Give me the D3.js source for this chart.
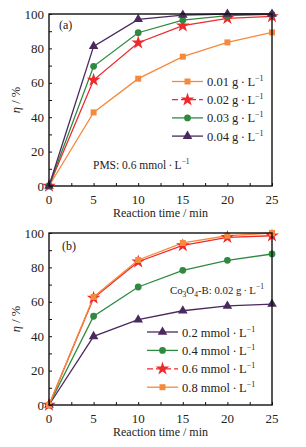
<!DOCTYPE html>
<html lang="en">
<head>
<meta charset="UTF-8">
<title>Removal efficiency vs reaction time</title>
<style>
  body { margin: 0; background: #fff; }
  svg text { font-family: "Liberation Serif", "DejaVu Serif", serif; fill: #222; }
</style>
</head>
<body>
<div id="chart"></div>
<script src="https://d3js.org/d3.v7.min.js"></script>
<script>
  const times = [0, 5, 10, 15, 20, 25];
  const xTicks = [0, 5, 10, 15, 20, 25];
  const yTicks = [0, 20, 40, 60, 80, 100];

  // panel (a): catalyst dosage
  const dosageLabels = ['0.01 g\u2009\u00b7\u2009L', '0.02 g\u2009\u00b7\u2009L', '0.03 g\u2009\u00b7\u2009L', '0.04 g\u2009\u00b7\u2009L'];
  const dose001 = [0, 42.8, 62.4, 75.2, 83.5, 89.3];
  const dose002 = [0, 61.6, 83.3, 93.2, 97.5, 98.6];
  const dose003 = [0, 69.6, 89.1, 96.5, 99.0, 99.8];
  const dose004 = [0, 81.2, 96.9, 99.4, 100, 100];

  // panel (b): PMS concentration
  const pmsLabels = ['0.2 mmol\u2009\u00b7\u2009L', '0.4 mmol\u2009\u00b7\u2009L', '0.6 mmol\u2009\u00b7\u2009L', '0.8 mmol\u2009\u00b7\u2009L'];
  const pms02 = [0, 39.9, 49.6, 54.8, 57.6, 58.7];
  const pms04 = [0, 51.6, 68.6, 78.3, 84.1, 87.8];
  const pms06 = [0, 62.2, 83.3, 92.8, 97.5, 98.4];
  const pms08 = [0, 62.8, 84.3, 94.2, 98.4, 100];

  const orange = '#f58a3c', red = '#ee2a2c', green = '#2f8a40', purple = '#4a2a5e';

  const W = 306, H = 447;
  const svg = d3.select('#chart').append('svg').attr('width', W).attr('height', H)
    .attr('font-family', '"Liberation Serif", "DejaVu Serif", serif');

  const symbols = {
    square: d3.symbolSquare,
    star: d3.symbolStar,
    diamond: d3.symbolCircle,
    triangle: d3.symbolTriangle
  };
  const symSize = { square: 36, star: 58, diamond: 36, triangle: 40 };

  function panel(opts) {
    const g = svg.append('g');
    const x = d3.scaleLinear().domain([0, 25]).range([49, 272]);
    const y = d3.scaleLinear().domain([0, 100]).range([opts.bottom, opts.bottom - 172]);

    // series
    opts.series.forEach(s => {
      const pts = times.map((t, i) => [t, s.values[i]]);
      g.append('path')
        .datum(pts)
        .attr('fill', 'none')
        .attr('stroke', s.color)
        .attr('stroke-width', 1.3)
        .attr('d', d3.line().x(d => x(d[0])).y(d => y(d[1])));
    });
    opts.series.forEach(s => {
      g.selectAll(null)
        .data(times.map((t, i) => [t, s.values[i]]))
        .enter()
        .append('path')
        .attr('transform', d => `translate(${x(d[0])},${y(d[1])})`)
        .attr('d', d3.symbol().type(symbols[s.shape]).size(symSize[s.shape]))
        .attr('fill', s.color);
    });

    // frame
    const x0 = x(0), x1 = x(25), y0 = y(0), y1 = y(100);
    g.append('rect')
      .attr('x', x0).attr('y', y1).attr('width', x1 - x0).attr('height', y0 - y1)
      .attr('fill', 'none').attr('stroke', '#111').attr('stroke-width', 1.4);

    // inner ticks
    const xAxis = d3.axisBottom(x).tickValues(d3.range(0, 25.1, 2.5)).tickSize(-3).tickFormat('');
    g.append('g').attr('transform', `translate(0,${y0})`).call(xAxis)
      .call(a => a.select('.domain').remove())
      .call(a => a.selectAll('line').attr('stroke', '#111').attr('stroke-width', 1));
    const yAxis = d3.axisLeft(y).tickValues(d3.range(0, 100.1, 10)).tickSize(-3).tickFormat('');
    g.append('g').attr('transform', `translate(${x0},0)`).call(yAxis)
      .call(a => a.select('.domain').remove())
      .call(a => a.selectAll('line').attr('stroke', '#111').attr('stroke-width', 1));

    // tick labels
    g.selectAll(null).data(xTicks).enter().append('text')
      .attr('x', d => x(d)).attr('y', y0 + 18)
      .attr('text-anchor', 'middle').attr('font-size', 13).text(d => d);
    g.selectAll(null).data(yTicks).enter().append('text')
      .attr('x', x0 - 5).attr('y', d => y(d) + 4.5)
      .attr('text-anchor', 'end').attr('font-size', 13).text(d => d);

    // axis titles
    g.append('text').attr('x', (x0 + x1) / 2).attr('y', y0 + 31)
      .attr('text-anchor', 'middle').attr('font-size', 12).text('Reaction time / min');
    const yt = g.append('text')
      .attr('transform', `translate(20,${(y0 + y1) / 2}) rotate(-90)`)
      .attr('text-anchor', 'middle').attr('font-size', 12.5);
    yt.append('tspan').attr('font-style', 'italic').text('\u03b7');
    yt.append('tspan').text(' / %');

    // panel tag
    g.append('text').attr('x', opts.tag[1]).attr('y', opts.tag[2])
      .attr('font-size', 12).text(opts.tag[0]);

    // legend
    opts.series.forEach((s, i) => {
      const ly = opts.legend.y + i * opts.legend.dy;
      const lx = opts.legend.x;
      g.append('line').attr('x1', lx).attr('x2', lx + 31).attr('y1', ly).attr('y2', ly)
        .attr('stroke', s.color).attr('stroke-width', 1.3)
        .attr('stroke-dasharray', s.shape === 'star' ? '6,3' : null);
      g.append('path').attr('transform', `translate(${lx + 15.5},${ly})`)
        .attr('d', d3.symbol().type(symbols[s.shape]).size(symSize[s.shape]))
        .attr('fill', s.color);
      const t = g.append('text').attr('x', lx + 35).attr('y', ly + 4.5).attr('font-size', 12.5);
      t.append('tspan').text(s.label);
      t.append('tspan').attr('dy', -5).attr('font-size', 8).text('\u22121');
    });

    // note
    const n = g.append('text').attr('x', opts.note.x).attr('y', opts.note.y).attr('font-size', opts.note.size);
    opts.note.parts.forEach(p => {
      const ts = n.append('tspan').text(p.t);
      if (p.sub) ts.attr('dy', 3).attr('font-size', 7.5);
      if (p.back) ts.attr('dy', -3);
      if (p.sup) ts.attr('dy', -5).attr('font-size', 7.5);
    });
  }

  panel({
    bottom: 186,
    tag: ['(a)', 59, 29],
    series: [
      { label: dosageLabels[0], values: dose001, color: orange, shape: 'square' },
      { label: dosageLabels[1], values: dose002, color: red, shape: 'star' },
      { label: dosageLabels[2], values: dose003, color: green, shape: 'diamond' },
      { label: dosageLabels[3], values: dose004, color: purple, shape: 'triangle' }
    ],
    legend: { x: 172, y: 81.5, dy: 18.2 },
    note: { x: 93, y: 169, size: 11.5, parts: [{ t: 'PMS: 0.6 mmol\u2009\u00b7\u2009L' }, { t: '\u22121', sup: true }] }
  });

  panel({
    bottom: 405,
    tag: ['(b)', 62, 250],
    series: [
      { label: pmsLabels[0], values: pms02, color: purple, shape: 'triangle' },
      { label: pmsLabels[1], values: pms04, color: green, shape: 'diamond' },
      { label: pmsLabels[2], values: pms06, color: red, shape: 'star' },
      { label: pmsLabels[3], values: pms08, color: orange, shape: 'square' }
    ],
    legend: { x: 147, y: 332, dy: 18.4 },
    note: { x: 170, y: 294, size: 10.8, parts: [
      { t: 'Co' }, { t: '3', sub: true }, { t: 'O', back: true }, { t: '4', sub: true },
      { t: '-B: 0.02 g\u2009\u00b7\u2009L', back: true }, { t: '\u22121', sup: true }
    ] }
  });
</script>
</body>
</html>
